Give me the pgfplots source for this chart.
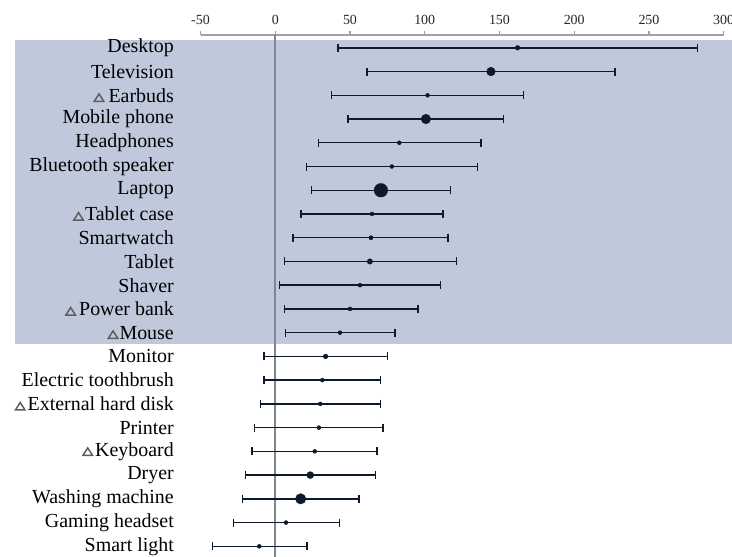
\documentclass[border=0pt]{standalone}
\usepackage{pgfplots}
\pgfplotsset{compat=1.18}
\usepackage{pgfplotstable}
\usepackage{fontspec}
\setmainfont{Liberation Serif}

\definecolor{ink}{HTML}{0D1A2C}
\definecolor{band}{HTML}{C0C9DC}
\definecolor{zeroline}{HTML}{80868F}
\definecolor{axisgray}{HTML}{A0A0A0}
\definecolor{tricol}{HTML}{5E5E5E}

% hollow triangle flag placed before some category names
\newcommand{\tri}[1]{\tikz[baseline=0pt]\draw[line width=1.5bp,draw=tricol,line join=miter]
  (0.75bp,0.75bp)--(10.25bp,0.75bp)--(5.5bp,8.2bp)--cycle;\hspace{#1}}

% idx: row (0 = top); lo / est / hi: interval and estimate; r: dot radius
\pgfplotstableread{
idx lo    est   hi    r
0   42.1  162.1 282.5 2.4
1   61.3  144.3 227.4 4.4
2   37.7  101.9 166.1 0.8
3   48.8  100.8 152.8 4.9
4   28.8  83.0  137.6 1.8
5   21.0  78.0  135.4 0.7
6   24.3  70.7  117.1 6.9
7   17.2  64.7  112.2 0.7
8   12.0  64.0  115.5 2.0
9   6.0   63.3  121.1 2.8
10  2.7   56.7  110.6 0.6
11  6.0   50.0  95.5  0.2
12  6.9   43.3  80.1  0.7
13  -7.6  33.7  74.9  2.4
14  -7.6  31.5  70.5  0.2
15  -10.0 30.1  70.5  0.8
16  -14.0 29.2  72.2  1.8
17  -15.6 26.4  68.0  0.7
18  -20.0 23.4  66.9  3.6
19  -22.0 17.0  56.0  5.3
20  -28.1 7.2   42.8  0.6
21  -42.1 -10.7 21.2  0.6
}\forestdata

\begin{document}
\begin{tikzpicture}
\begin{axis}[
  set layers,
  at={(0,0)}, anchor=south west,
  width=523.2bp, height=522bp, scale only axis,
  xmin=-50, xmax=300, ymin=-0.54, ymax=21.45,
  y dir=reverse,
  clip=false,
  axis x line*=top,
  axis y line*=left,
  y axis line style={draw=none},
  x axis line style={draw=axisgray, line width=1.2bp},
  tick align=outside,
  major tick length=4bp,
  xtick={-50,0,50,100,150,200,250,300},
  xticklabels={-50,0,50,100,150,200,250,300},
  x tick style={draw=axisgray, line width=1.2bp},
  x tick label style={font=\fontsize{14}{16}\selectfont, text=black!85, yshift=3bp},
  ytick={0,...,21},
  yticklabels={Desktop, Television, \tri{4bp}Earbuds, Mobile phone, Headphones,
    Bluetooth speaker, Laptop, \tri{1bp}Tablet case, Smartwatch, Tablet, Shaver,
    \tri{3bp}Power bank, \tri{1bp}Mouse, Monitor, Electric toothbrush,
    \tri{2bp}External hard disk, Printer, \tri{2bp}Keyboard, Dryer,
    Washing machine, Gaming headset, Smart light},
  y tick style={draw=none},
  y tick label style={font=\fontsize{20}{22}\selectfont, text=black,
    anchor=east, inner sep=0pt, xshift=-22.5bp},
]
  % highlighted block behind the upper rows and their labels
  \begin{pgfonlayer}{axis background}
    \fill[band] (axis cs:-174.1,-0.32) rectangle (axis cs:305.5,12.48);
  \end{pgfonlayer}
  % reference line at zero
  \draw[zeroline, line width=1.8bp] (axis cs:0,-0.54) -- (axis cs:0,21.45);

  % intervals
  \addplot[ink, only marks, mark=none,
    error bars/.cd, x dir=both, x explicit,
    error bar style={ink, line width=1.4bp},
    error mark options={ink, line width=1.4bp, mark size=4bp, rotate=90}]
    table[x=est, y=idx,
      x error plus expr=\thisrow{hi}-\thisrow{est},
      x error minus expr=\thisrow{est}-\thisrow{lo}] {\forestdata};

  % estimates, dot size per row
  \addplot[scatter, only marks, mark=*, point meta=explicit,
    scatter/use mapped color={draw=ink, fill=ink, line width=0.2bp},
    visualization depends on={\thisrow{r} \as \rr},
    scatter/@pre marker code/.append style={/tikz/mark size=\rr bp}]
    table[x=est, y=idx, meta=r] {\forestdata};
\end{axis}
\pgfresetboundingbox
\useasboundingbox (-200.5bp,0) rectangle (531.5bp,557bp);
\end{tikzpicture}
\end{document}
